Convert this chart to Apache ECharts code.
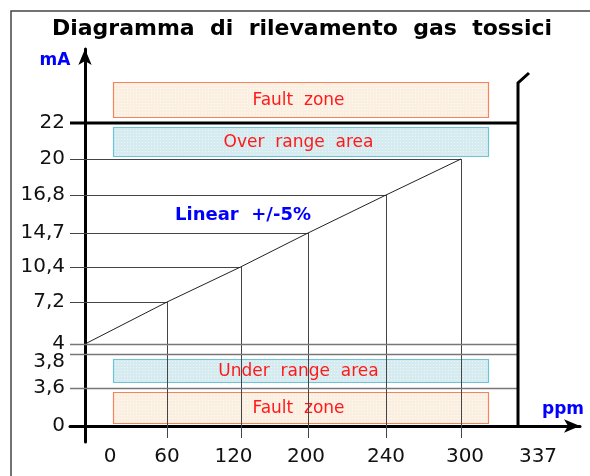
<!DOCTYPE html>
<html><head><meta charset="utf-8">
<script src="https://cdn.jsdelivr.net/npm/echarts@6/dist/echarts.min.js"></script>
<style>html,body{margin:0;padding:0;background:#fff}#c{width:590px;height:476px}</style>
</head><body><div id="c"></div>
<script>
// ---------- data ----------
const titleText = 'Diagramma  di  rilevamento  gas  tossici';
const ppmValues = [0, 60, 120, 200, 240, 300];
const mAValues = [4, 7.2, 10.4, 14.7, 16.8, 20];
const xTickValues = [0, 60, 120, 200, 240, 300, 337];
const xTickLabels = ['0', '60', '120', '200', '240', '300', '337'];
const yTickValues = [0, 3.6, 3.8, 4, 7.2, 10.4, 14.7, 16.8, 20, 22];
const yTickLabels = ['0', '3,6', '3,8', '4', '7,2', '10,4', '14,7', '16,8', '20', '22'];
const zoneNames = ['Fault  zone', 'Over  range  area', 'Under  range  area', 'Fault  zone'];
const zoneLow = [22, 20, 3.6, 0];
const zoneHigh = [24, 22, 3.8, 3.6];
const zoneKinds = ['fault', 'range', 'range', 'fault'];
const fullWidthLevels = [4, 3.8, 3.6];
const breakLevel = 22;
const maxPpm = 337;

// ---------- schematic (broken) axis layout: value -> axis slot ----------
const xBreakpoints = [0, 60, 120, 200, 240, 300, 337];
const xSlots = [0, 82, 155.5, 223, 301, 376, 433];
const xLabelShift = [25, 0, -7, -2, 0, 4, 20];
const yBreakpoints = [0, 3.6, 3.8, 4, 7.2, 10.4, 14.7, 16.8, 20, 22, 24];
const ySlots = [0, 38, 72, 82, 124, 159, 193, 231, 267, 303, 347];
const yLabelShift = [0, 0, -8, 0, 0, 0, 0, 0, 0, 0];
const zonePad = [[6, 3], [3, 4], [6, 5], [3, 4]];
const zoneX = [28, 403];
const X_MIN = -15, X_MAX = 495, Y_MIN = -16, Y_MAX = 377;

function interp(v, xs, ys) {
  let i = 0;
  while (i < xs.length - 2 && v > xs[i + 1]) i++;
  const t = (v - xs[i]) / (xs[i + 1] - xs[i]);
  return ys[i] + t * (ys[i + 1] - ys[i]);
}
const sx = v => interp(v, xBreakpoints, xSlots);
const sy = v => interp(v, yBreakpoints, ySlots);

const xLabelPos = xTickValues.map((v, i) => sx(v) + xLabelShift[i]);
const yLabelPos = yTickValues.map((v, i) => sy(v) + yLabelShift[i]);
function lookup(pos, arr, labels) {
  for (let i = 0; i < arr.length; i++) if (Math.abs(arr[i] - pos) < 0.01) return labels[i];
  return '';
}

function dotPattern(bg, dot) {
  const c = document.createElement('canvas');
  c.width = 3; c.height = 3;
  const g = c.getContext('2d');
  g.fillStyle = bg; g.fillRect(0, 0, 3, 3);
  g.fillStyle = dot; g.fillRect(1, 1, 1, 1);
  return { image: c, repeat: 'repeat' };
}
const zoneStyles = {
  fault: { fill: dotPattern('#fbefe2', '#fffaf4'), stroke: '#f5845c' },
  range: { fill: dotPattern('#d5ebf0', '#eaf6f8'), stroke: '#6cc3da' }
};

const FONT = 'DejaVu Sans';
const chart = echarts.init(document.getElementById('c'), null, { renderer: 'canvas' });

chart.setOption({
  animation: false,
  backgroundColor: '#fff',
  grid: { left: 70, right: 10, top: 49, bottom: 34 },
  xAxis: {
    type: 'value', min: X_MIN, max: X_MAX,
    splitLine: { show: false },
    axisTick: { show: false },
    axisLine: { show: true, onZero: true, symbol: ['none', 'arrow'], symbolSize: [10, 16],
      lineStyle: { color: '#000', width: 3 } },
    axisLabel: {
      customValues: xLabelPos,
      formatter: v => lookup(v, xLabelPos, xTickLabels),
      fontFamily: FONT, fontSize: 20, color: '#111', margin: 5
    }
  },
  yAxis: {
    type: 'value', min: Y_MIN, max: Y_MAX,
    splitLine: { show: false },
    axisTick: { show: false },
    axisLine: { show: true, onZero: true, symbol: ['none', 'arrow'], symbolSize: [10, 16],
      lineStyle: { color: '#000', width: 3 } },
    axisLabel: {
      customValues: yLabelPos,
      formatter: v => lookup(v, yLabelPos, yTickLabels),
      fontFamily: FONT, fontSize: 20, color: '#111', margin: 5
    }
  },
  graphic: [
    { type: 'rect', shape: { x: 11, y: 11, width: 700, height: 600 },
      style: { fill: 'none', stroke: '#444', lineWidth: 1.5 }, z: 0 },
    { type: 'text', x: 302, y: 29, style: { text: titleText, fill: '#000', font: 'bold 22px "DejaVu Sans"',
      align: 'center', verticalAlign: 'middle' } },
    { type: 'text', x: 55, y: 61, style: { text: 'mA', fill: '#0000ff', font: 'bold 17px "DejaVu Sans"',
      align: 'center', verticalAlign: 'middle' } },
    { type: 'text', x: 563, y: 410, style: { text: 'ppm', fill: '#0000ff', font: 'bold 17px "DejaVu Sans"',
      align: 'center', verticalAlign: 'middle' } },
    { type: 'text', x: 243, y: 215, style: { text: 'Linear  +/-5%', fill: '#0000ff', font: 'bold 18px "DejaVu Sans"',
      align: 'center', verticalAlign: 'middle' } }
  ],
  series: [
    {
      type: 'custom', z: 1, silent: true,
      data: zoneNames.map((n, i) => [i]),
      renderItem: (params, api) => {
        const i = api.value(0);
        const p1 = api.coord([zoneX[0], sy(zoneHigh[i]) - zonePad[i][1]]);
        const p2 = api.coord([zoneX[1], sy(zoneLow[i]) + zonePad[i][0]]);
        const st = zoneStyles[zoneKinds[i]];
        return {
          type: 'group', children: [
            { type: 'rect', shape: { x: p1[0] + 0.5, y: p1[1] + 0.5, width: p2[0] - p1[0], height: p2[1] - p1[1] },
              style: { fill: st.fill, stroke: st.stroke, lineWidth: 1.2 } },
            { type: 'text', x: (p1[0] + p2[0]) / 2 - 2, y: (p1[1] + p2[1]) / 2 + 1,
              style: { text: zoneNames[i], fill: '#ff1a1a', font: '17px "DejaVu Sans"', align: 'center', verticalAlign: 'middle' } }
          ]
        };
      }
    },
    {
      type: 'custom', z: 2, silent: true,
      data: ppmValues.map((p, i) => [p, mAValues[i]]),
      renderItem: (params, api) => {
        const x = sx(api.value(0)), y = sy(api.value(1));
        const pt = api.coord([x, y]);
        const left = api.coord([X_MIN, y]);
        const bottom = api.coord([x, -12]);
        const children = [
          { type: 'line', shape: { x1: left[0], y1: Math.round(pt[1]) + 0.5, x2: pt[0], y2: Math.round(pt[1]) + 0.5 },
            style: { stroke: '#444', lineWidth: 1 } }
        ];
        if (api.value(0) > 0) children.push(
          { type: 'line', shape: { x1: Math.round(pt[0]) + 0.5, y1: pt[1], x2: Math.round(pt[0]) + 0.5, y2: bottom[1] },
            style: { stroke: '#444', lineWidth: 1 } });
        return { type: 'group', children };
      }
    },
    {
      type: 'custom', z: 2, silent: true,
      data: fullWidthLevels.map(v => [v]),
      renderItem: (params, api) => {
        const y = sy(api.value(0));
        const a = api.coord([X_MIN, y]), b = api.coord([sx(maxPpm), y]);
        return { type: 'line', shape: { x1: a[0], y1: Math.round(a[1]) + 0.5, x2: b[0], y2: Math.round(a[1]) + 0.5 },
          style: { stroke: '#777', lineWidth: 1.5 } };
      }
    },
    {
      type: 'custom', z: 3, silent: true,
      data: [[breakLevel]],
      renderItem: (params, api) => {
        const y = sy(api.value(0));
        const a = api.coord([X_MIN, y]);
        const r = api.coord([sx(maxPpm), y]);
        const base = api.coord([sx(maxPpm), 0]);
        const top = api.coord([sx(maxPpm), 343]);
        const tip = api.coord([sx(maxPpm) + 11, 353]);
        return { type: 'group', children: [
          { type: 'line', shape: { x1: a[0], y1: a[1], x2: r[0], y2: r[1] }, style: { stroke: '#000', lineWidth: 3 } },
          { type: 'polyline', shape: { points: [base, top, tip] }, style: { stroke: '#000', lineWidth: 3, fill: 'none' } }
        ] };
      }
    },
    {
      type: 'line', z: 4, silent: true,
      data: ppmValues.map((p, i) => [sx(p), sy(mAValues[i])]),
      showSymbol: false, symbol: 'none',
      lineStyle: { color: '#222', width: 1 }
    }
  ]
});
</script>
</body></html>
